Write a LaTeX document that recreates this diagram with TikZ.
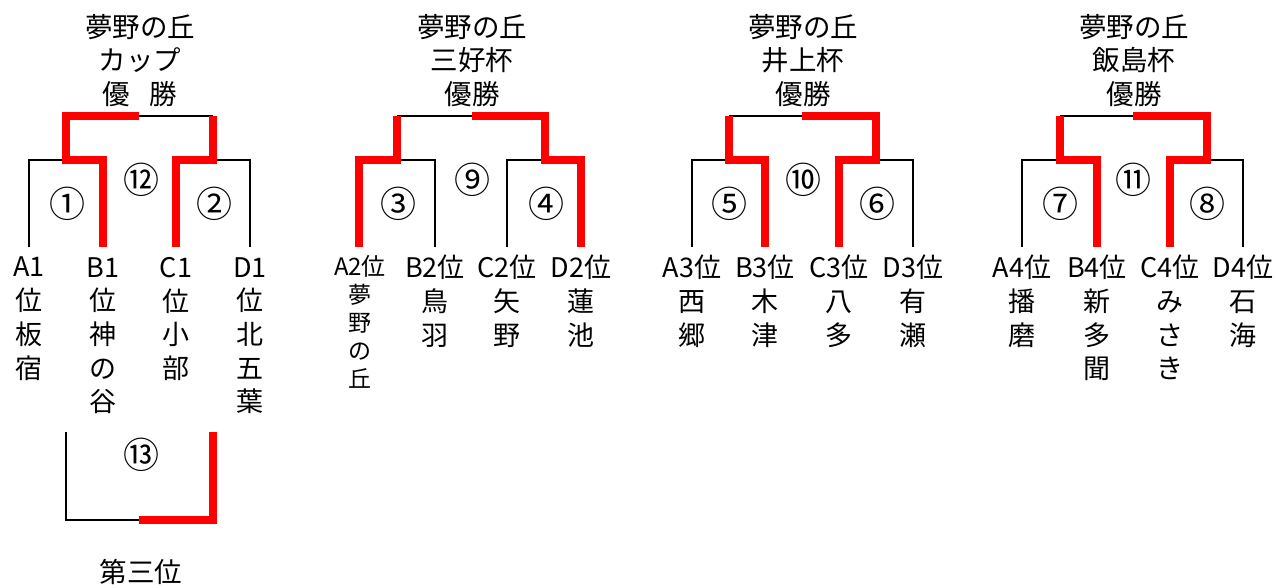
\documentclass[tikz,border=0pt]{standalone}
\usepackage{fontspec}
\setmainfont{Noto Sans CJK JP}
\tikzset{
  win/.style={draw=red, line width=7.5pt, line join=miter},
  lose/.style={draw=black, line width=2.8pt, line join=miter},
  lbl/.style={font=\fontsize{27}{33.7}\selectfont, align=center, inner sep=0pt, anchor=north},
  ttl/.style={font=\fontsize{27.5}{33.5}\selectfont, align=center, inner sep=0pt, anchor=north},
  num/.style={font=\fontsize{36}{36}\selectfont, inner sep=0pt},
}
\begin{document}
\begin{tikzpicture}[x=1pt,y=-1pt]
\useasboundingbox (0,0) rectangle (1276,587);

% ---------- titles
\node[ttl] (t1) at (140,14) {夢野の丘\\カップ\\優\hspace{20pt}勝};
\node[ttl] (t2) at (472,14) {夢野の丘\\三好杯\\優勝};
\node[ttl] (t3) at (803,14) {夢野の丘\\井上杯\\優勝};
\node[ttl] (t4) at (1134,14) {夢野の丘\\飯島杯\\優勝};

% ---------- team labels
\node[lbl] (l1a) at (29,257) {A1\\位\\板\\宿};
\node[lbl] (l1b) at (103,257) {B1\\位\\神\\の\\谷};
\node[lbl] (l1c) at (176,257) {C1\\位\\小\\部};
\node[lbl] (l1d) at (250,257) {D1\\位\\北\\五\\葉};

\node[lbl, font=\fontsize{24}{28}\selectfont] (l2ah) at (360,255) {A2位};
\node[lbl, font=\fontsize{23}{28}\selectfont] (l2a) at (360,284) {夢\\野\\の\\丘};
\node[lbl] (l2b) at (435,255) {B2位\\鳥\\羽};
\node[lbl] (l2c) at (507,255) {C2位\\矢\\野};
\node[lbl] (l2d) at (581,255) {D2位\\蓮\\池};

\node[lbl] (l3a) at (692,255) {A3位\\西\\郷};
\node[lbl] (l3b) at (765,255) {B3位\\木\\津};
\node[lbl] (l3c) at (839,255) {C3位\\八\\多};
\node[lbl] (l3d) at (913,255) {D3位\\有\\瀬};

\node[lbl] (l4a) at (1022,255) {A4位\\播\\磨};
\node[lbl] (l4b) at (1097,255) {B4位\\新\\多\\聞};
\node[lbl] (l4c) at (1170,255) {C4位\\み\\さ\\き};
\node[lbl] (l4d) at (1243,255) {D4位\\石\\海};

% ---------- match numbers
\node[num] (n1) at (67,204) {①};
\node[num] (n2) at (214,204) {②};
\node[num] (n12) at (141,180) {⑫};
\node[num] (n3) at (398,204) {③};
\node[num] (n4) at (546,204) {④};
\node[num] (n9) at (472,180) {⑨};
\node[num] (n5) at (729,204) {⑤};
\node[num] (n6) at (877,204) {⑥};
\node[num] (n10) at (803,180) {⑩};
\node[num] (n7) at (1060,204) {⑦};
\node[num] (n8) at (1207,204) {⑧};
\node[num] (n11) at (1133,180) {⑪};
\node[num] (n13) at (141,455) {⑬};
\node[ttl, anchor=center] (third) at (141,572) {第三位};

% ---------- bracket points (bottom ends of team lines)
\foreach \n/\x in {1a/29,1b/103,1c/176,1d/250,2a/359,2b/435,2c/507,2d/581,
                   3a/692,3b/765,3c/839,3d/913,4a/1022,4b/1097,4c/1170,4d/1243}
  \coordinate (b\n) at (\x,247);
\foreach \n/\x in {1l/66,1r/213,2l/397,2r/545,3l/729,3r/876,4l/1060,4r/1207}
  {\coordinate (m\n) at (\x,160); \coordinate (u\n) at (\x,116);}
\foreach \n/\x in {1/139,2/472,3/802,4/1133}
  \coordinate (top\n) at (\x,116);

% ---------- bracket 1
\draw[lose] (b1a) |- (m1l);
\draw[lose] (b1d) |- (m1r);
\draw[lose] (top1) -- (u1r);
\draw[win] (b1b) |- (m1l) -- (u1l) -- (top1);
\draw[win] (b1c) |- (m1r) -- (u1r);

% ---------- bracket 2
\draw[lose] (b2b) |- (m2l);
\draw[lose] (b2c) |- (m2r);
\draw[lose] (u2l) -- (top2);
\draw[win] (b2a) |- (m2l) -- (u2l);
\draw[win] (b2d) |- (m2r) -- (u2r) -- (top2);

% ---------- bracket 3
\draw[lose] (b3a) |- (m3l);
\draw[lose] (b3d) |- (m3r);
\draw[lose] (u3l) -- (top3);
\draw[win] (b3b) |- (m3l) -- (u3l);
\draw[win] (b3c) |- (m3r) -- (u3r) -- (top3);

% ---------- bracket 4
\draw[lose] (b4a) |- (m4l);
\draw[lose] (b4d) |- (m4r);
\draw[lose] (u4l) -- (top4);
\draw[win] (b4b) |- (m4l) -- (u4l);
\draw[win] (b4c) |- (m4r) -- (u4r) -- (top4);

% ---------- third place match
\coordinate (p3l) at (66,432);
\coordinate (p3r) at (213,432);
\coordinate (p3m) at (139,520);
\draw[lose] (p3l) |- (p3m);
\draw[win] (p3r) |- (p3m);
\end{tikzpicture}
\end{document}
